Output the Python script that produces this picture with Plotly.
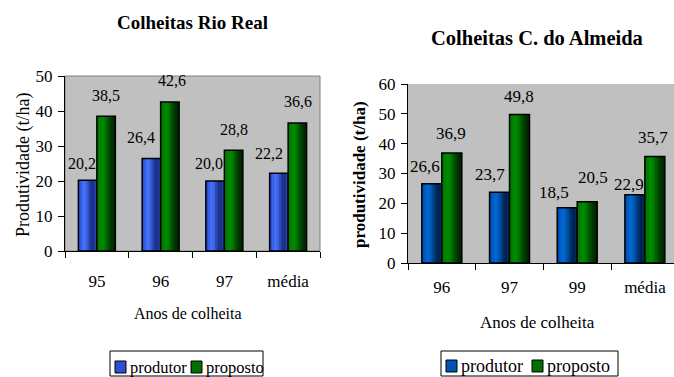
import plotly.graph_objects as go

# ---- data -------------------------------------------------------------
rio_years = ["95", "96", "97", "média"]
rio_produtor = [20.2, 26.4, 20.0, 22.2]
rio_proposto = [38.5, 42.6, 28.8, 36.6]

alm_years = ["96", "97", "99", "média"]
alm_produtor = [26.6, 23.7, 18.5, 22.9]
alm_proposto = [36.9, 49.8, 20.5, 35.7]

series_names = ["produtor", "proposto"]

# ---- styling ----------------------------------------------------------
W, H = 674, 377
FONT = "Liberation Serif, Times New Roman, Tinos, DejaVu Serif, serif"
BG = "#C0C0C0"

# shading across each bar, left to right (cylinder look)
BLUE_L = ["#2D4DD2", "#3A62EA", "#4472F6", "#3C64E4", "#2C4AB8", "#1F3490", "#1C2F86", "#2642B4"]
BLUE_R = ["#0050B0", "#005EC4", "#0068D0", "#005AB8", "#004590", "#00306C", "#00224F", "#002A60"]
GREEN = ["#007800", "#008400", "#008A00", "#007A00", "#006000", "#004600", "#003200", "#002600"]


def px(x):
    return x / W


def py(y):
    return 1 - y / H


fig = go.Figure()


def add_bars(cats, vals, offset, width, shades, xa, ya, name):
    n = len(shades)
    # widest strip first, narrower ones on top, all anchored on the left edge
    for k in range(n - 1, -1, -1):
        fig.add_trace(go.Bar(
            x=cats, y=vals, xaxis=xa, yaxis=ya,
            offset=offset, width=width * (k + 1) / n,
            marker=dict(color=shades[k], line=dict(width=0)),
            showlegend=False, hoverinfo="skip", name=name,
        ))
    fig.add_trace(go.Bar(
        x=cats, y=vals, xaxis=xa, yaxis=ya,
        offset=offset, width=width,
        marker=dict(color="rgba(0,0,0,0)", line=dict(color="black", width=1.5)),
        showlegend=False, name=name,
    ))


BW_L = 0.29
BW_R = 0.295
add_bars(rio_years, rio_produtor, -BW_L, BW_L, BLUE_L, "x", "y", series_names[0])
add_bars(rio_years, rio_proposto, 0.0, BW_L, GREEN, "x", "y", series_names[1])
add_bars(alm_years, alm_produtor, -BW_R, BW_R, BLUE_R, "x2", "y2", series_names[0])
add_bars(alm_years, alm_proposto, 0.0, BW_R, GREEN, "x2", "y2", series_names[1])

annotations = []


def fmt(v):
    return f"{v:.1f}".replace(".", ",")


# value labels: pixel nudges above each bar top
rio_dx = [[-6, -10, -6, -10], [0, 2, 0, 1]]
rio_dy = [[17, 21, 18, 20], [21, 21, 21, 21]]
alm_dx = [[-7, -10, -13, -6], [-1, -1, 6, -2]]
alm_dy = [[17, 18, 15, 10], [19, 18, 24, 19]]


def add_labels(vals_by_series, bw, dxs, dys, xr, yr, size):
    for s, vals in enumerate(vals_by_series):
        centre = -bw / 2 if s == 0 else bw / 2
        for i, v in enumerate(vals):
            annotations.append(dict(
                x=i + centre, y=v, xref=xr, yref=yr, text=fmt(v), showarrow=False,
                xanchor="center", yanchor="middle",
                xshift=dxs[s][i], yshift=dys[s][i],
                font=dict(family=FONT, size=size, color="black"),
            ))


add_labels([rio_produtor, rio_proposto], BW_L, rio_dx, rio_dy, "x", "y", 16)
add_labels([alm_produtor, alm_proposto], BW_R, alm_dx, alm_dy, "x2", "y2", 17)


def label(x, y, text, size, angle=0, xanchor="center"):
    annotations.append(dict(
        x=px(x), y=py(y), xref="paper", yref="paper", text=text, textangle=angle,
        showarrow=False, xanchor=xanchor, yanchor="middle",
        font=dict(family=FONT, size=size, color="black"),
    ))


# chart and axis titles
label(192, 23, "<b>Colheitas Rio Real</b>", 19)
label(537, 38, "<b>Colheitas C. do Almeida</b>", 20.5)
label(188, 313, "Anos de colheita", 16)
label(537, 322, "Anos de colheita", 17)
label(23, 165, "Produtividade (t/ha)", 18, angle=-90)
label(359, 175, "<b>produtividade (t/ha)</b>", 17, angle=-90)

shapes = [
    # frame around the left plot area
    dict(type="rect", xref="x domain", yref="y domain", x0=0, x1=1, y0=0, y1=1,
         line=dict(color="#808080", width=1), layer="below"),
]


def add_legend(box, items):
    x0, x1, y0, y1 = box
    shapes.append(dict(type="rect", xref="paper", yref="paper",
                       x0=px(x0), x1=px(x1), y0=py(y1), y1=py(y0),
                       line=dict(color="black", width=1), fillcolor="white"))
    for sx, ty, color, text, size in items:
        shapes.append(dict(type="rect", xref="paper", yref="paper",
                           x0=px(sx), x1=px(sx + 11), y0=py(ty + 6), y1=py(ty - 6),
                           line=dict(color="black", width=1), fillcolor=color))
        label(sx + 13, ty, text, size, xanchor="left")


add_legend((110, 263, 351, 376), [
    (115, 367, "#3050D4", series_names[0], 16.5),
    (191, 367, "#007000", series_names[1], 16.5),
])
add_legend((441, 618, 351, 376), [
    (446, 366, "#0055B4", series_names[0], 18),
    (532, 366, "#007000", series_names[1], 18),
])

tick_font_l = dict(family=FONT, size=17, color="black")
tick_font_r = dict(family=FONT, size=17, color="black")

common_axis = dict(showline=True, linecolor="black", linewidth=1, ticks="outside",
                   ticklen=6, tickcolor="black", showgrid=False, zeroline=False,
                   automargin=False, fixedrange=True)

fig.update_layout(
    template="none",
    width=W, height=H,
    margin=dict(l=0, r=0, t=0, b=0, pad=0),
    paper_bgcolor="white", plot_bgcolor=BG,
    barmode="overlay", showlegend=False,
    annotations=annotations, shapes=shapes,
    xaxis=dict(domain=[px(65), px(320)], type="category", range=[-0.5, 3.5],
               tickson="boundaries", ticklabelstandoff=15, tickfont=tick_font_l,
               **common_axis),
    yaxis=dict(domain=[py(251), py(76)], range=[0, 50], dtick=10,
               ticklabelstandoff=2, tickfont=tick_font_l, **common_axis),
    xaxis2=dict(domain=[px(408), 1.0], type="category", range=[-0.5, 3.43], anchor="y2",
                tickson="boundaries", ticklabelstandoff=9, tickfont=tick_font_r,
                **common_axis),
    yaxis2=dict(domain=[py(263), py(84)], range=[0, 60], dtick=10, anchor="x2",
                ticklabelstandoff=2, tickfont=tick_font_r, **common_axis),
)

fig.write_html("out.html", config={"displayModeBar": False})
